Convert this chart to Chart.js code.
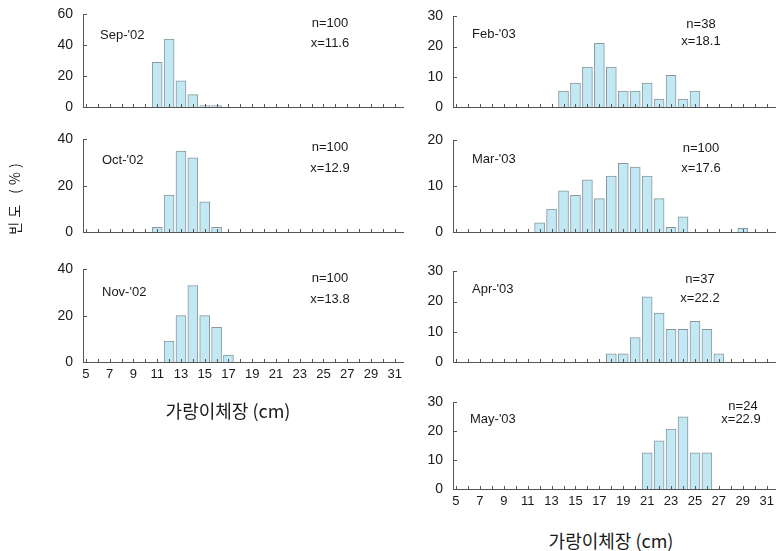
<!DOCTYPE html>
<html>
<head>
<meta charset="utf-8">
<script src="https://cdn.jsdelivr.net/npm/chart.js@4"></script>
<style>
  body { margin: 0; background: #fff; width: 781px; height: 551px; position: relative; overflow: hidden; }
  canvas { position: absolute; }
  .t { position: absolute; font: 13px "Liberation Sans", Arial, sans-serif; color: #1a1a1a; white-space: nowrap; transform: translate(-50%, -50%); }
  .lbl { transform: translate(0, -50%); }
  .ax { font: 18px "Noto Sans CJK KR", sans-serif; }
  .yt { font: 14px "Noto Sans CJK KR", sans-serif; letter-spacing: 4px; transform: translate(-50%, -50%) rotate(-90deg); }
</style>
</head>
<body>
<canvas id="sep"></canvas>
<canvas id="oct"></canvas>
<canvas id="nov"></canvas>
<canvas id="feb"></canvas>
<canvas id="mar"></canvas>
<canvas id="apr"></canvas>
<canvas id="may"></canvas>

<div class="t lbl" style="left:100px;top:34px">Sep-'02</div>
<div class="t" style="left:330px;top:22px">n=100</div>
<div class="t" style="left:330px;top:42px">x=11.6</div>
<div class="t lbl" style="left:102px;top:159px">Oct-'02</div>
<div class="t" style="left:330px;top:146px">n=100</div>
<div class="t" style="left:330px;top:167px">x=12.9</div>
<div class="t lbl" style="left:102px;top:291px">Nov-'02</div>
<div class="t" style="left:330px;top:277px">n=100</div>
<div class="t" style="left:330px;top:298px">x=13.8</div>

<div class="t lbl" style="left:472px;top:33px">Feb-'03</div>
<div class="t" style="left:701px;top:23px">n=38</div>
<div class="t" style="left:701px;top:40px">x=18.1</div>
<div class="t lbl" style="left:472px;top:158px">Mar-'03</div>
<div class="t" style="left:701px;top:147px">n=100</div>
<div class="t" style="left:701px;top:167px">x=17.6</div>
<div class="t lbl" style="left:472px;top:288px">Apr-'03</div>
<div class="t" style="left:700px;top:278px">n=37</div>
<div class="t" style="left:700px;top:297px">x=22.2</div>
<div class="t lbl" style="left:470px;top:418px">May-'03</div>
<div class="t" style="left:743px;top:405px">n=24</div>
<div class="t" style="left:741px;top:418px">x=22.9</div>

<div class="t ax" style="left:228px;top:410px">가랑이체장 (cm)</div>
<div class="t ax" style="left:611px;top:540px">가랑이체장 (cm)</div>
<div class="t yt" style="left:14px;top:197px">빈도 (%)</div>

<script>
// size classes (cm) shown on the x axis
const xTickLabels = [5, 7, 9, 11, 13, 15, 17, 19, 21, 23, 25, 27, 29, 31];

// frequency (%) by fork length, one pair per month
const sepLen = [11, 12, 13, 14, 15, 16];
const sepPct = [29, 44, 17, 8, 1, 1];
const octLen = [11, 12, 13, 14, 15, 16];
const octPct = [2, 16, 35, 32, 13, 2];
const novLen = [12, 13, 14, 15, 16, 17];
const novPct = [9, 20, 33, 20, 15, 3];

const febLen = [14, 15, 16, 17, 18, 19, 20, 21, 22, 23, 24, 25];
const febPct = [5.3, 7.9, 13.2, 21.1, 13.2, 5.3, 5.3, 7.9, 2.6, 10.5, 2.6, 5.3];
const marLen = [12, 13, 14, 15, 16, 17, 18, 19, 20, 21, 22, 23, 24, 29];
const marPct = [2, 5, 9, 8, 11.4, 7.3, 12.2, 15, 14.2, 12.2, 7.3, 1, 3.3, 0.8];
const aprLen = [18, 19, 20, 21, 22, 23, 24, 25, 26, 27];
const aprPct = [2.7, 2.7, 8.1, 21.6, 16.2, 10.8, 10.8, 13.5, 10.8, 2.7];
const mayLen = [21, 22, 23, 24, 25, 26];
const mayPct = [12.5, 16.7, 20.8, 25, 12.5, 12.5];

const yTicksSep = [0, 20, 40, 60];
const yTicks40 = [0, 20, 40];
const yTicks30 = [0, 10, 20, 30];
const yTicks20 = [0, 10, 20];

const axisColor = '#555';

// small inward tick marks like the original
const tickMarks = {
  id: 'tickMarks',
  afterDraw(chart) {
    const { ctx, scales: { x, y } } = chart;
    ctx.save();
    ctx.strokeStyle = axisColor;
    ctx.lineWidth = 1;
    ctx.beginPath();
    for (let v = Math.ceil(x.min); v <= Math.floor(x.max); v++) {
      const px = Math.round(x.getPixelForValue(v)) + 0.5;
      ctx.moveTo(px, y.bottom - 3);
      ctx.lineTo(px, y.bottom + 1);
    }
    y.ticks.forEach(t => {
      const py = Math.round(y.getPixelForValue(t.value)) + 0.5;
      ctx.moveTo(x.left, py);
      ctx.lineTo(x.left + 4, py);
    });
    ctx.stroke();
    ctx.restore();
  }
};

// top gap that Chart.js leaves for the highest y label
const topGap = 17;

function panel(id, left, top, width, plotH, lens, pcts, yMax, yTicks, showX) {
  const xH = 26;
  const canvas = document.getElementById(id);
  canvas.width = width;
  canvas.height = topGap + plotH + xH;
  canvas.style.left = left + 'px';
  canvas.style.top = (top - topGap) + 'px';

  new Chart(canvas, {
    type: 'bar',
    data: {
      datasets: [{
        data: lens.map((l, i) => ({ x: l, y: pcts[i] })),
        backgroundColor: '#c2e9f3',
        borderColor: '#8a979e',
        borderWidth: 1,
        barThickness: 10
      }]
    },
    options: {
      responsive: false,
      animation: false,
      devicePixelRatio: 1,
      layout: { padding: { top: 0, right: 5, left: 0, bottom: 0 } },
      plugins: { legend: { display: false }, tooltip: { enabled: false } },
      scales: {
        x: {
          type: 'linear',
          offset: false,
          min: 4.75,
          max: 31.7,
          afterBuildTicks: s => { s.ticks = xTickLabels.map(v => ({ value: v })); },
          afterFit: s => { s.height = xH; },
          grid: { display: false, drawTicks: false },
          border: { display: true, color: axisColor },
          ticks: {
            padding: 5,
            maxRotation: 0,
            autoSkip: false,
            color: showX ? '#1a1a1a' : 'rgba(0,0,0,0)',
            font: { family: 'Liberation Sans', size: 13 }
          }
        },
        y: {
          min: 0,
          max: yMax,
          afterBuildTicks: s => { s.ticks = yTicks.map(v => ({ value: v })); },
          afterFit: s => { s.width = 45; },
          grid: { display: false, drawTicks: false },
          border: { display: true, color: axisColor },
          ticks: {
            padding: 10,
            color: '#1a1a1a',
            font: { family: 'Liberation Sans', size: 14 }
          }
        }
      }
    },
    plugins: [tickMarks]
  });
}

panel('sep', 38, 13, 370, 94, sepLen, sepPct, 60, yTicksSep, false);
panel('oct', 38, 138, 370, 94, octLen, octPct, 40, yTicks40, false);
panel('nov', 38, 268, 370, 94, novLen, novPct, 40, yTicks40, true);

panel('feb', 408, 15, 372, 92, febLen, febPct, 30, yTicks30, false);
panel('mar', 408, 139, 372, 93, marLen, marPct, 20, yTicks20, false);
panel('apr', 408, 270, 372, 92, aprLen, aprPct, 30, yTicks30, false);
panel('may', 408, 401, 372, 88, mayLen, mayPct, 30, yTicks30, true);
</script>
</body>
</html>
